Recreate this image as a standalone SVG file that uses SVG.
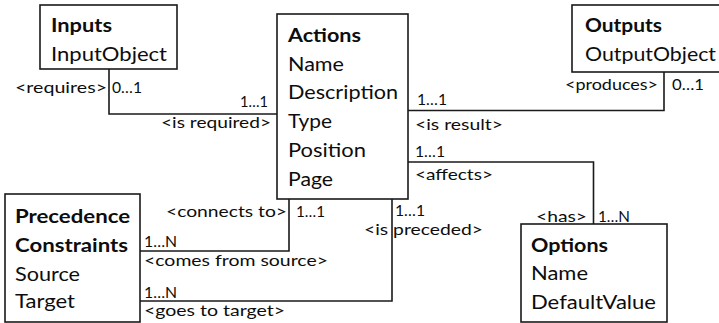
<svg xmlns="http://www.w3.org/2000/svg" width="719" height="323" viewBox="0 0 719 323">
  <style>
    .box { fill: #ffffff; stroke: #1a1a1a; stroke-width: 1.6; }
    .wire { fill: none; stroke: #1a1a1a; stroke-width: 1.6; }
    text { font-family: Lato, "Open Sans", "Liberation Sans", sans-serif; fill: #0d0d0d; }
    .title { font-size: 19.5px; font-weight: bold; }
    .attr { font-size: 19.5px; }
    .lbl { font-size: 15px; }
  </style>
  <rect width="719" height="323" fill="#ffffff"/>

  <!-- connectors -->
  <g id="connectors">
    <path class="wire" d="M109,69 V114 H277"/>
    <path class="wire" d="M408,110.5 H664 V72"/>
    <path class="wire" d="M408,162 H593.5 V224"/>
    <path class="wire" d="M289,199 V251 H140"/>
    <path class="wire" d="M392,199 V301 H140"/>
  </g>

  <!-- connector labels -->
  <g id="labels">
    <text class="lbl" x="15" y="93" textLength="92" lengthAdjust="spacingAndGlyphs">&lt;requires&gt;</text>
    <text class="lbl" x="112" y="93" textLength="30" lengthAdjust="spacingAndGlyphs">0…1</text>
    <text class="lbl" x="240" y="107" textLength="28" lengthAdjust="spacingAndGlyphs">1…1</text>
    <text class="lbl" x="161" y="128" textLength="110" lengthAdjust="spacingAndGlyphs">&lt;is required&gt;</text>

    <text class="lbl" x="565" y="90" textLength="93" lengthAdjust="spacingAndGlyphs">&lt;produces&gt;</text>
    <text class="lbl" x="672" y="90" textLength="32" lengthAdjust="spacingAndGlyphs">0…1</text>
    <text class="lbl" x="417" y="105" textLength="30" lengthAdjust="spacingAndGlyphs">1…1</text>
    <text class="lbl" x="415" y="130" textLength="88" lengthAdjust="spacingAndGlyphs">&lt;is result&gt;</text>

    <text class="lbl" x="415" y="157" textLength="30" lengthAdjust="spacingAndGlyphs">1…1</text>
    <text class="lbl" x="415" y="180" textLength="78" lengthAdjust="spacingAndGlyphs">&lt;affects&gt;</text>
    <text class="lbl" x="536" y="222" textLength="51" lengthAdjust="spacingAndGlyphs">&lt;has&gt;</text>
    <text class="lbl" x="598" y="222" textLength="32" lengthAdjust="spacingAndGlyphs">1…N</text>

    <text class="lbl" x="166" y="216.5" textLength="121" lengthAdjust="spacingAndGlyphs">&lt;connects to&gt;</text>
    <text class="lbl" x="296" y="216.5" textLength="29" lengthAdjust="spacingAndGlyphs">1…1</text>
    <text class="lbl" x="395" y="216" textLength="30" lengthAdjust="spacingAndGlyphs">1…1</text>
    <text class="lbl" x="364" y="234.5" textLength="119" lengthAdjust="spacingAndGlyphs">&lt;is preceded&gt;</text>

    <text class="lbl" x="144" y="247" textLength="33" lengthAdjust="spacingAndGlyphs">1…N</text>
    <text class="lbl" x="144" y="266" textLength="184" lengthAdjust="spacingAndGlyphs">&lt;comes from source&gt;</text>
    <text class="lbl" x="144" y="297.5" textLength="33" lengthAdjust="spacingAndGlyphs">1…N</text>
    <text class="lbl" x="144" y="316" textLength="141" lengthAdjust="spacingAndGlyphs">&lt;goes to target&gt;</text>
  </g>

  <!-- entities -->
  <g id="inputs">
    <rect class="box" x="40" y="5" width="137" height="64"/>
    <text class="title" x="51" y="32" textLength="61" lengthAdjust="spacingAndGlyphs">Inputs</text>
    <text class="attr" x="51" y="61" textLength="116" lengthAdjust="spacingAndGlyphs">InputObject</text>
  </g>

  <g id="actions">
    <rect class="box" x="277" y="14" width="131" height="185"/>
    <text class="title" x="288" y="42" textLength="73" lengthAdjust="spacingAndGlyphs">Actions</text>
    <text class="attr" x="288" y="70.5" textLength="56" lengthAdjust="spacingAndGlyphs">Name</text>
    <text class="attr" x="288" y="99" textLength="110" lengthAdjust="spacingAndGlyphs">Description</text>
    <text class="attr" x="288" y="128" textLength="44" lengthAdjust="spacingAndGlyphs">Type</text>
    <text class="attr" x="288" y="157" textLength="78" lengthAdjust="spacingAndGlyphs">Position</text>
    <text class="attr" x="288" y="185.5" textLength="45" lengthAdjust="spacingAndGlyphs">Page</text>
  </g>

  <g id="outputs">
    <rect class="box" x="572" y="5" width="152" height="67"/>
    <text class="title" x="585" y="32" textLength="77" lengthAdjust="spacingAndGlyphs">Outputs</text>
    <text class="attr" x="585" y="61" textLength="131" lengthAdjust="spacingAndGlyphs">OutputObject</text>
  </g>

  <g id="precedence-constraints">
    <rect class="box" x="5" y="194" width="135" height="128"/>
    <text class="title" x="15" y="223" textLength="115" lengthAdjust="spacingAndGlyphs">Precedence</text>
    <text class="title" x="15" y="252" textLength="113" lengthAdjust="spacingAndGlyphs">Constraints</text>
    <text class="attr" x="15" y="281" textLength="65" lengthAdjust="spacingAndGlyphs">Source</text>
    <text class="attr" x="15" y="308" textLength="60" lengthAdjust="spacingAndGlyphs">Target</text>
  </g>

  <g id="options">
    <rect class="box" x="521" y="224" width="146" height="98"/>
    <text class="title" x="531" y="252" textLength="77" lengthAdjust="spacingAndGlyphs">Options</text>
    <text class="attr" x="531" y="280" textLength="57" lengthAdjust="spacingAndGlyphs">Name</text>
    <text class="attr" x="531" y="309" textLength="125" lengthAdjust="spacingAndGlyphs">DefaultValue</text>
  </g>
</svg>
